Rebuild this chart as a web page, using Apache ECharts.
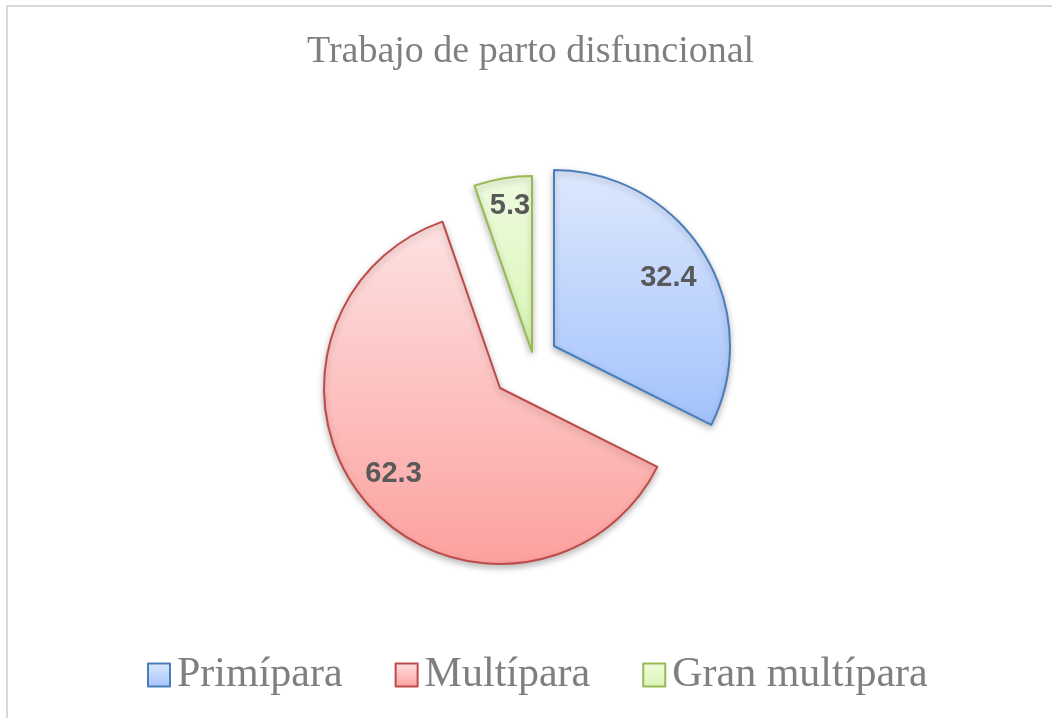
<!DOCTYPE html>
<html>
<head>
<meta charset="utf-8">
<script src="https://cdn.jsdelivr.net/npm/echarts@6/dist/echarts.min.js"></script>
<style>
  html, body { margin: 0; padding: 0; background: #fff; }
  #chart { width: 1052px; height: 718px; }
</style>
</head>
<body>
<div id="chart"></div>
<script>
// datos
var categorias = ['Primípara', 'Multípara', 'Gran multípara'];
var valores = [32.4, 62.3, 5.3];

(function () {
    let myChart = echarts.init(document.getElementById('chart'));

    // colores de cada porción (degradado arriba -> abajo, borde)
    var estilos = [
        { top: '#dde8fd', bottom: '#a3c2fb', border: '#4a7ebb' },
        { top: '#fde2e2', bottom: '#fca19f', border: '#be4b48' },
        { top: '#eefbdf', bottom: '#d9f6b6', border: '#98b954' }
    ];
    // cada porción está separada del centro de forma distinta, como en Excel
    var centros = [[554, 346], [500, 388], [532, 352]];
    var desplazLabel = [[37, -20], [-38, 26], [-7, -56]];

    function degradado(e) {
        return new echarts.graphic.LinearGradient(0, 0, 0, 1, [
            { offset: 0, color: e.top },
            { offset: 1, color: e.bottom }
        ]);
    }

    var series = categorias.map(function (cat, k) {
        return {
            name: cat,
            type: 'pie',
            radius: 176,
            center: centros[k],
            startAngle: 90,
            clockwise: true,
            silent: true,
            avoidLabelOverlap: false,
            labelLine: { show: false },
            labelLayout: { dx: desplazLabel[k][0], dy: desplazLabel[k][1] },
            data: categorias.map(function (n, i) {
                var visible = i === k;
                return {
                    name: n,
                    value: valores[i],
                    itemStyle: visible ? {
                        color: degradado(estilos[i]),
                        borderColor: estilos[i].border,
                        borderWidth: 2,
                        shadowBlur: 6,
                        shadowOffsetY: 3,
                        shadowColor: 'rgba(0,0,0,0.25)'
                    } : { color: 'rgba(0,0,0,0)', borderWidth: 0 },
                    label: {
                        show: visible,
                        position: 'inside',
                        formatter: '{c}',
                        color: '#595959',
                        fontFamily: 'Liberation Sans, Arial, sans-serif',
                        fontWeight: 'bold',
                        fontSize: 29
                    }
                };
            })
        };
    });

    let option = {
        backgroundColor: '#fff',
        animation: false,
        title: {
            text: 'Trabajo de parto disfuncional',
            left: 307,
            top: 33,
            padding: 0,
            textStyle: {
                color: '#7f7f7f',
                fontFamily: 'Liberation Serif, Times New Roman, serif',
                fontWeight: 'normal',
                fontSize: 38
            }
        },
        legend: {
            left: 147,
            top: 654,
            padding: 0,
            icon: 'rect',
            itemWidth: 22,
            itemHeight: 23,
            itemGap: 52,
            selectedMode: false,
            textStyle: {
                color: '#7f7f7f',
                fontFamily: 'Liberation Serif, Times New Roman, serif',
                fontSize: 42,
                padding: [0, 0, 0, 2]
            },
            data: categorias.map(function (n, i) {
                return {
                    name: n,
                    itemStyle: {
                        color: degradado(estilos[i]),
                        borderColor: estilos[i].border,
                        borderWidth: 2
                    }
                };
            })
        },
        graphic: [{
            type: 'rect',
            silent: true,
            shape: { x: 7, y: 6, width: 1100, height: 800 },
            style: { fill: 'none', stroke: '#d9d9d9', lineWidth: 2 }
        }],
        series: series
    };

    myChart.setOption(option);
    window.addEventListener('resize', function () {
        myChart.resize();
    });
})();
</script>
</body>
</html>
